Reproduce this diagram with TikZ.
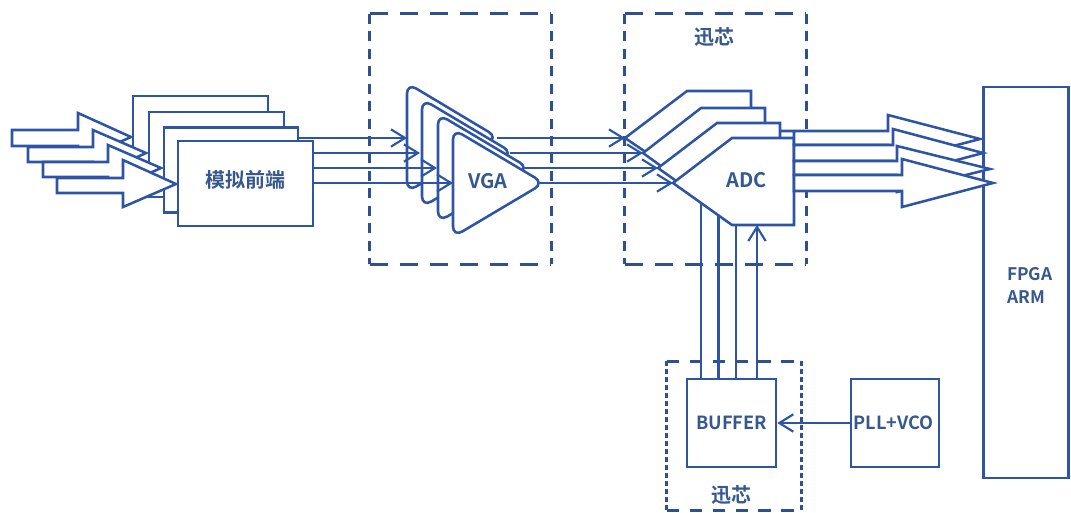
\documentclass[tikz,border=0pt]{standalone}
\usepackage{fontspec}
\usetikzlibrary{arrows.meta}
\setmainfont{Noto Sans CJK SC}[BoldFont={* Bold}]
\definecolor{ln}{HTML}{2E55A5}
\definecolor{dashc}{HTML}{2F5090}
\definecolor{tx}{HTML}{36588F}
\tikzset{
  sz/.style 2 args={minimum width=#1*0.75pt,minimum height=#2*0.75pt},
  box/.style={draw=ln,line width=1.9pt,fill=white,inner sep=0pt,text=tx,align=center},
  shape line/.style={draw=ln,line width=1.9pt,fill=white,line join=miter},
  wire/.style={draw=ln,line width=1.9pt},
  arrowwire/.style={wire,-{Straight Barb[length=10.5pt,width=13pt,line width=1.6pt]}},
  dashh/.style={draw=dashc,line width=2pt,dash pattern=on 13.5pt off 9pt},
  dashv/.style={draw=dashc,line width=2pt,dash pattern=on 7.5pt off 5.6pt},
  dashhb/.style={draw=dashc,line width=2pt,dash pattern=on 9.5pt off 7.7pt},
  dashvb/.style={draw=dashc,line width=2.2pt,dash pattern=on 3.6pt off 2.4pt},
  group/.style={inner sep=0pt,draw=none},
  lab/.style={text=tx,inner sep=0pt},
  fa/.style={font=\bfseries\fontsize{15}{17}\selectfont},
  fb/.style={font=\bfseries\fontsize{13.6}{17}\selectfont},
  fc/.style={font=\bfseries\fontsize{13}{17}\selectfont},
}
\begin{document}
\begin{tikzpicture}[x=0.75pt,y=-0.75pt]
\useasboundingbox (0,0) rectangle (1071,512);
\fill[white] (0,0) rectangle (1071,512);
% dashed groups
\node[group,sz={181}{250}] (groupvga) at (460.5,139) {};
\node[group,sz={181}{250}] (groupadc) at (715.5,139) {};
\node[group,sz={134}{149}] (groupbuf) at (734,436) {};
\foreach \g in {groupvga,groupadc}{
  \draw[dashh] (\g.north west) -- (\g.north east);
  \draw[dashh] (\g.south west) -- (\g.south east);
  \draw[dashv] (\g.north west) -- (\g.south west);
  \draw[dashv] (\g.north east) -- (\g.south east);
}
\draw[dashhb] (groupbuf.north west) -- (groupbuf.north east);
\draw[dashhb] (groupbuf.south west) -- (groupbuf.south east);
\draw[dashvb] (groupbuf.north west) -- (groupbuf.south west);
\draw[dashvb] (groupbuf.north east) -- (groupbuf.south east);
\node[lab,fa] (xin1) at (714,37) {迅芯};
\node[lab,fa] (xin2) at (731,495) {迅芯};
% front-end stack
\node[box,sz={135}{85}] (fe1) at (200.5,138.5) {};
\node[box,sz={135}{85}] (fe2) at (216.5,154.5) {};
\node[box,sz={134}{85}] (fe3) at (231,170) {};
\node[box,sz={135}{85},fa] (fe4) at (245.5,183.5) {};
\node[lab,fa] (felabel) at (245,180) {模拟前端};
% input block arrows
\path[shape line] (12,130)--(78,130)--(78,113)--(131,137)--(78,160.5)--(78,146)--(12,146)--cycle;
\path[shape line] (28,147)--(93,147)--(93,130)--(146,153)--(93,177)--(93,162)--(28,162)--cycle;
\path[shape line] (43,162)--(108,162)--(108,145)--(161,168)--(108,192)--(108,177)--(43,177)--cycle;
\path[shape line] (57,178)--(123,178)--(123,160)--(176,184)--(123,207)--(123,193)--(57,193)--cycle;
% VGA stack
\path[shape line,rounded corners=8pt] (407,83)--(498,137.5)--(407,192)--cycle;
\path[shape line,rounded corners=8pt] (422,99)--(513,153)--(422,207)--cycle;
\path[shape line,rounded corners=8pt] (438,114)--(529,168)--(438,222)--cycle;
\path[shape line,rounded corners=8pt] (453,129)--(544,183)--(453,237)--cycle;
\node[lab,fa] (vga) at (488,181) {VGA};
\coordinate (vga1) at (407,138);
\coordinate (vga2) at (420,153);
\coordinate (vga3) at (437,168);
\coordinate (vga4) at (453,183);
\draw[arrowwire] (fe3.east |- vga1) -- (vga1);
\draw[arrowwire] (fe4.east |- vga2) -- (vga2);
\draw[arrowwire] (fe4.east |- vga3) -- (vga3);
\draw[arrowwire] (fe4.east |- vga4) -- (vga4);
% ADC to buffer wires
\node[box,sz={89}{88},fb] (buffer) at (731.5,423) {BUFFER};
\node[box,sz={88}{88},fb] (pll) at (895,423) {};
\node[lab,fb] (plllabel) at (893.5,423) {PLL+VCO};
\coordinate (adcb1) at (701,200);
\coordinate (adcb2) at (718.5,210);
\coordinate (adcb3) at (736,222);
\coordinate (adcb4) at (757,225);
\draw[wire] (buffer.north -| adcb1) -- (adcb1);
\draw[wire] (buffer.north -| adcb2) -- (adcb2);
\draw[wire] (buffer.north -| adcb3) -- (adcb3);
% ADC stack
\path[shape line] (625,138)--(687,91)--(751,91)--(751,180)--(687,180)--cycle;
\path[shape line] (643,153)--(701,108)--(765,108)--(765,195)--(701,195)--cycle;
\path[shape line] (658,168)--(717,123)--(780,123)--(780,210)--(717,210)--cycle;
\path[shape line] (673,183)--(732,138)--(794,138)--(794,225)--(732,225)--cycle;
\node[lab,fa] (adc) at (747,180) {ADC};
\draw[arrowwire] (buffer.north -| adcb4) -- (adcb4);
\coordinate (adct1) at (625,138);
\coordinate (adct2) at (643,153);
\coordinate (adct3) at (658,168);
\coordinate (adct4) at (673,183);
\coordinate (vgao1) at (497,138);
\coordinate (vgao2) at (510,153);
\coordinate (vgao3) at (525,168);
\coordinate (vgao4) at (540,183);
\draw[arrowwire] (vgao1) -- (adct1);
\draw[arrowwire] (vgao2) -- (adct2);
\draw[arrowwire] (vgao3) -- (adct3);
\draw[arrowwire] (vgao4) -- (adct4);
% FPGA
\node[box,sz={85}{391}] (fpga) at (1026,282.5) {};
\node[lab,fc,anchor=west] (fpgatext) at (1007,274) {FPGA};
\node[lab,fc,anchor=west] (armtext) at (1007,297) {ARM};
% output block arrows
\path[shape line] (780,131)--(888,131)--(888,115)--(980,139)--(888,163)--(888,145)--(794,145)--(794,131)--cycle;
\path[shape line] (794,145)--(893,145)--(893,129)--(983,153)--(893,177)--(893,161)--(794,161)--cycle;
\path[shape line] (794,161)--(897,161)--(897,146)--(990,169)--(897,192)--(897,175)--(794,175)--cycle;
\path[shape line] (794,175)--(902,175)--(902,159)--(993,183)--(902,207)--(902,191)--(794,191)--cycle;
% PLL to buffer
\draw[arrowwire] (pll.west) -- (buffer.east);
\end{tikzpicture}
\end{document}
